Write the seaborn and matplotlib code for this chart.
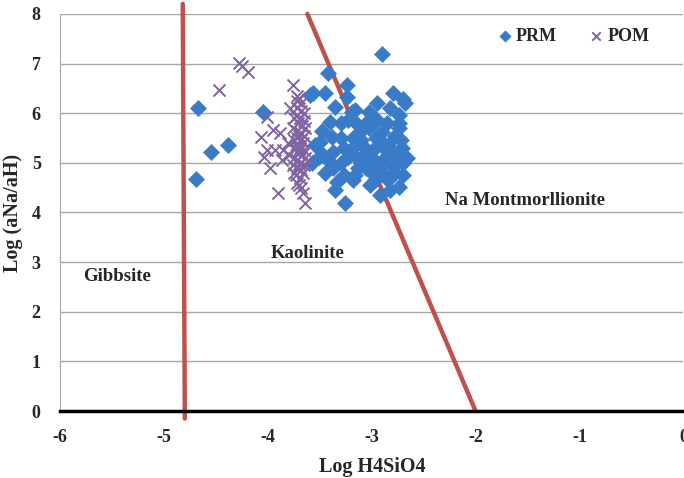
import matplotlib
matplotlib.use("Agg")
import matplotlib.pyplot as plt
import seaborn as sns
import pandas as pd

# PRM samples (blue diamonds)
prm_x = [-4.67, -4.69, -4.55, -4.38, -4.05, -3.59, -2.90,
         -3.42, -3.57, -3.45, -3.24, -3.24, -3.35, -3.19, -3.40, -3.23,
         -2.80, -2.70, -2.82, -2.74, -3.03, -2.95, -3.16, -3.06, -2.85, -2.74,
         -3.50, -3.38, -3.30, -3.18, -3.47, -3.37, -3.27, -3.23, -3.14, -3.51,
         -3.37, -3.27, -3.18, -3.33, -3.26, -3.42,
         -3.03, -2.90, -2.74, -3.09, -2.97, -2.84, -2.71, -3.00, -2.87, -2.74,
         -3.06, -2.94, -2.80, -2.70, -2.97, -2.84, -2.74, -2.92, -3.16,
         -2.66, -2.68, -3.12, -3.20, -3.10, -3.05, -2.92, -2.80, -2.78, -2.88,
         -3.00, -2.90, -2.78, -3.13, -3.45, -3.55, -3.58, -3.48, -3.30, -3.10,
         -2.96, -2.86, -2.72, -2.82, -3.02, -3.15, -3.30, -2.95, -3.35, -2.70]
prm_y = [6.10, 4.68, 5.22, 5.36, 6.02, 6.37, 7.19,
         6.80, 6.41, 6.40, 6.57, 6.33, 6.13, 6.03, 5.83, 5.87,
         6.41, 6.29, 6.11, 5.97, 6.03, 5.87, 6.07, 5.81, 5.81, 5.81,
         5.42, 5.52, 5.50, 5.50, 5.16, 5.22, 5.30, 5.12, 5.10, 5.12,
         4.90, 4.76, 4.66, 4.62, 4.19, 5.06,
         5.71, 5.62, 5.71, 5.36, 5.30, 5.36, 5.30, 5.10, 5.10, 5.10,
         4.90, 4.90, 4.92, 4.76, 4.66, 4.66, 4.52, 4.35, 4.76,
         5.10, 6.20, 5.60, 5.25, 5.00, 5.20, 5.45, 5.20, 5.55, 5.00,
         4.80, 4.80, 4.80, 4.90, 4.80, 5.35, 5.00, 5.65, 5.00, 5.45,
         5.50, 5.25, 5.45, 4.45, 4.55, 5.80, 5.80, 6.20, 4.45, 5.00]

# POM samples (purple crosses)
pom_x = [-4.28, -4.25, -4.19, -4.47, -3.76, -4.01, -4.07, -3.95, -3.88, -4.01,
         -3.93, -4.04, -3.85, -3.98, -3.90, -3.66, -3.64, -3.81, -3.80, -3.86,
         -3.70, -3.72, -3.79,
         -3.72, -3.72, -3.73, -3.71, -3.72, -3.72, -3.73, -3.71, -3.72, -3.72, -3.73, -3.72,
         -3.68, -3.68, -3.69, -3.67, -3.68, -3.68, -3.69, -3.67, -3.68, -3.68, -3.69, -3.68,
         -3.65, -3.65, -3.64, -3.65, -3.66, -3.65, -3.64, -3.65, -3.66,
         -3.75, -3.76, -3.75, -3.74, -3.75, -3.76, -3.75,
         -3.70, -3.70, -3.70, -3.70]
pom_y = [7.02, 6.94, 6.83, 6.47, 6.57, 5.93, 5.52, 5.67, 5.60, 5.26,
         5.26, 5.12, 5.26, 4.90, 4.40, 4.40, 4.19, 5.40, 5.15, 5.05,
         4.55, 6.35, 6.10,
         6.25, 6.10, 5.95, 5.80, 5.65, 5.50, 5.35, 5.20, 5.05, 4.90, 4.75, 4.60,
         6.20, 6.05, 5.90, 5.75, 5.60, 5.45, 5.30, 5.15, 5.00, 4.85, 4.70, 4.50,
         6.00, 5.85, 5.70, 5.55, 5.40, 5.25, 5.10, 4.95, 4.80,
         5.90, 5.70, 5.45, 5.30, 5.10, 4.95, 4.80,
         6.30, 5.55, 5.25, 4.98]

# stability field boundaries
gibbsite_x = [-4.82, -4.80]
gibbsite_y = [8.2, -0.15]
kaol_x = [-3.62, -2.0]
kaol_y = [8.0, 0.0]

prm = pd.DataFrame({"x": prm_x, "y": prm_y})
pom = pd.DataFrame({"x": pom_x, "y": pom_y})

sns.set_style("white")
plt.rcParams["font.family"] = ["Liberation Serif", "DejaVu Serif"]
plt.rcParams["font.weight"] = "bold"
plt.rcParams["axes.unicode_minus"] = False

fig = plt.figure(figsize=(6.84, 4.78), dpi=100)
ax = fig.add_axes([0.088, 0.14, 0.911, 0.831])

ax.set_xlim(-6, 0)
ax.set_ylim(0, 8)
ax.yaxis.grid(True, color="#a6a6a6", linewidth=1)
ax.set_axisbelow(True)

ax.plot(gibbsite_x, gibbsite_y, color="#c0504d", linewidth=3.2, clip_on=False, zorder=1)
ax.plot(kaol_x, kaol_y, color="#c0504d", linewidth=3.2, clip_on=False, zorder=1)

sns.scatterplot(data=pom, x="x", y="y", marker="x", s=75, color="#8064a2",
                linewidth=1.4, label="POM", ax=ax, zorder=3)
sns.scatterplot(data=prm, x="x", y="y", marker="D", s=70, color="#3a7bc8",
                edgecolor="#3a7bc8", linewidth=0.3, label="PRM", ax=ax, zorder=2)

ax.text(-5.45, 2.72, "Gibbsite", fontsize=13.5, fontweight="bold", ha="center", va="center")
ax.text(-3.62, 3.18, "Kaolinite", fontsize=13.5, fontweight="bold", ha="center", va="center")
ax.text(-1.52, 4.25, "Na Montmorllionite", fontsize=13.5, fontweight="bold", ha="center", va="center")

handles, labels = ax.get_legend_handles_labels()
ax.legend(handles[::-1], labels[::-1], loc="upper left", bbox_to_anchor=(0.67, 1.005),
          ncol=2, frameon=False, prop={"weight": "bold", "size": 13},
          handletextpad=0.0, columnspacing=1.6, markerscale=0.7, handlelength=1.2)

for side in ["top", "right"]:
    ax.spines[side].set_visible(False)
ax.spines["left"].set_color("#a6a6a6")
ax.spines["bottom"].set_color("black")
ax.spines["bottom"].set_linewidth(2.5)
ax.tick_params(axis="x", direction="out", length=5, width=2.5, color="black",
               labelsize=13, pad=8)
ax.tick_params(axis="y", length=0, labelsize=13, pad=14)
ax.set_xticks([-6, -5, -4, -3, -2, -1, 0])
ax.set_yticks(range(0, 9))
ax.set_xlabel("Log H4SiO4", fontsize=14.5, fontweight="bold", labelpad=8)
ax.set_ylabel("Log (aNa/aH)", fontsize=14.5, fontweight="bold", labelpad=6)

fig.savefig("out.png", dpi=100)
